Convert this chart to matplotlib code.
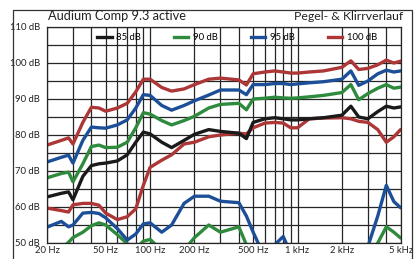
import matplotlib
matplotlib.use("Agg")
import matplotlib.pyplot as plt
from matplotlib.ticker import LogLocator, NullFormatter, MultipleLocator

# frequency points (Hz)
freq = [20, 25, 28, 30, 35, 40, 45, 50, 60, 70, 80, 90, 100, 120, 140, 170, 200, 250,
        300, 400, 450, 500, 600, 700, 800, 900, 1000, 1200, 1500, 2000, 2300, 2600,
        3000, 3500, 4000, 4500, 5000]

# level curves (dB)
level_85 = [62.8, 63.8, 64.2, 62.0, 68.5, 71.5, 72.0, 72.2, 72.8, 74.5, 78.0, 80.8, 80.3,
            78.0, 76.5, 78.5, 80.2, 81.5, 81.0, 80.5, 79.0, 83.5, 84.5, 84.8, 84.5, 84.2,
            84.2, 84.5, 84.8, 85.5, 88.0, 85.0, 84.5, 86.5, 88.0, 87.5, 87.8]
level_90 = [68.1, 69.3, 69.7, 67.0, 72.0, 76.8, 77.2, 76.5, 76.6, 78.0, 82.0, 86.2, 85.8,
            84.0, 82.8, 84.0, 85.2, 87.5, 88.5, 88.8, 87.0, 90.0, 90.2, 90.5, 90.3, 90.2,
            90.3, 90.6, 91.0, 91.8, 94.0, 89.8, 91.5, 93.0, 94.0, 93.0, 93.3]
level_95 = [72.5, 73.8, 74.4, 72.2, 78.5, 82.2, 82.0, 81.9, 82.8, 84.2, 87.5, 91.2, 91.0,
            88.2, 86.9, 88.2, 89.5, 91.1, 92.5, 92.5, 91.2, 94.0, 94.0, 94.3, 94.3, 94.0,
            94.2, 94.5, 94.8, 95.5, 97.8, 93.8, 95.0, 97.0, 98.0, 97.5, 97.8]
level_100 = [77.2, 78.5, 79.2, 77.5, 83.5, 87.7, 87.5, 86.6, 87.5, 88.8, 92.0, 95.5, 95.5,
             93.2, 92.2, 92.8, 94.0, 95.5, 95.8, 95.3, 93.9, 97.0, 97.5, 97.8, 97.5, 97.2,
             97.2, 97.5, 97.8, 98.8, 100.6, 98.2, 98.5, 99.5, 100.8, 100.0, 100.5]

# distortion curves (dB), values under 50 dB fall off the chart
thd_90 = [46.0, 48.5, 50.2, 51.5, 53.0, 54.8, 55.6, 55.0, 52.3, 49.8, 48.5, 50.5, 51.0,
          48.0, 46.0, 48.0, 51.5, 55.0, 53.0, 54.5, 49.5, 46.0, 46.0, 46.0, 46.0, 46.0,
          46.0, 46.0, 46.0, 46.0, 46.0, 46.0, 46.0, 50.0, 54.5, 53.0, 51.4]
thd_95 = [54.4, 56.0, 54.5, 55.0, 58.3, 58.5, 58.2, 57.0, 54.0, 50.8, 52.5, 55.3, 55.6,
          53.0, 55.0, 61.0, 63.0, 63.0, 61.6, 61.2, 57.5, 53.0, 46.0, 49.5, 51.8, 47.0,
          46.0, 46.0, 46.0, 46.0, 46.0, 46.0, 49.0, 57.5, 66.0, 61.5, 59.8]
thd_100 = [59.7, 59.0, 58.6, 60.6, 61.0, 61.0, 60.5, 58.3, 56.5, 57.3, 59.5, 66.0, 71.0,
           73.0, 74.5, 77.5, 78.0, 79.5, 80.0, 80.5, 80.3, 82.0, 83.3, 83.5, 83.3, 82.0,
           82.0, 84.5, 84.7, 84.8, 84.5, 83.8, 83.5, 81.5, 78.0, 79.5, 81.5]

x_ticks = [20, 50, 100, 200, 500, 1000, 2000, 5000]
x_labels = ["20 Hz", "50 Hz", "100 Hz", "200 Hz", "500 Hz", "1 kHz", "2 kHz", "5 kHz"]
y_ticks = [50, 60, 70, 80, 90, 100, 110]

black = "#1a1a1a"
green = "#2e8a3c"
blue = "#1d4f98"
red = "#ad3636"

plt.rcParams["font.family"] = ["Lato", "DejaVu Sans"]

fig = plt.figure(figsize=(4.19, 2.59), dpi=100)
ax = fig.add_axes([47 / 419, 16 / 259, 353.6 / 419, 216 / 259])

lw = 2.4
ax.plot(freq, thd_90, color=green, lw=lw, solid_capstyle="round")
ax.plot(freq, thd_95, color=blue, lw=lw, solid_capstyle="round")
ax.plot(freq, thd_100, color=red, lw=lw, solid_capstyle="round")
ax.plot(freq, level_85, color=black, lw=lw, label="85 dB")
ax.plot(freq, level_90, color=green, lw=lw, label="90 dB")
ax.plot(freq, level_95, color=blue, lw=lw, label="95 dB")
ax.plot(freq, level_100, color=red, lw=lw, label="100 dB")

ax.set_xscale("log")
ax.set_xlim(20, 5000)
ax.set_ylim(50, 110)
ax.set_xticks(x_ticks)
ax.set_xticklabels(x_labels)
ax.xaxis.set_minor_locator(LogLocator(base=10, subs=range(2, 10)))
ax.xaxis.set_minor_formatter(NullFormatter())
ax.set_yticks(y_ticks)
ax.set_yticklabels([f"{v} dB" for v in y_ticks])
ax.yaxis.set_minor_locator(MultipleLocator(5))
ax.tick_params(which="both", length=0, labelsize=6.8, colors="#222222")
ax.tick_params(axis="y", pad=5)
ax.tick_params(axis="x", pad=2)
ax.grid(which="both", color="#262626", lw=0.9)
ax.set_axisbelow(True)
for s in ax.spines.values():
    s.set_color("#262626")
    s.set_linewidth(0.9)

ax.legend(loc="center", bbox_to_anchor=(0.538, 0.952), ncol=4, frameon=False,
          fontsize=6.8, handlelength=1.5, handletextpad=0.5, columnspacing=3.5,
          borderaxespad=0)

# outer frame and header texts
fig.add_artist(plt.Rectangle((13 / 419, -0.1), 399 / 419, 1.1 - 10 / 259,
                             transform=fig.transFigure, fill=False,
                             edgecolor="#333333", lw=0.9))
fig.text(48 / 419, 1 - 16.5 / 259, "Audium Comp 9.3 active", ha="left", va="center",
         fontsize=9.2, color="#222222")
fig.text(403 / 419, 1 - 16.5 / 259, "Pegel- & Klirrverlauf", ha="right", va="center",
         fontsize=8.8, color="#222222")

fig.savefig("out.png", dpi=100)
